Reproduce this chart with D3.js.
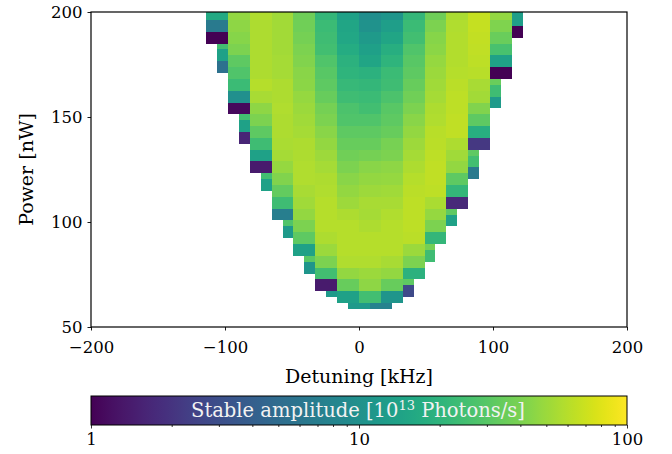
<!DOCTYPE html>
<html>
<head>
<meta charset="utf-8">
<script src="https://cdn.jsdelivr.net/npm/d3@7"></script>
<style>
  body { margin: 0; background: #fff; }
  svg text { font-family: "DejaVu Serif", "Liberation Serif", serif; fill: #000; }
</style>
</head>
<body>
<div id="chart"></div>
<script>
//---->DATA<-----//
// main scan: column centres (kHz) and row centres (nW)
const detuning = [-105.95, -89.65, -73.35, -57.05, -40.75, -24.45, -8.15,
                  8.15, 24.45, 40.75, 57.05, 73.35, 89.65, 105.95];
const power = [64.24, 69.86, 75.47, 81.09, 86.70, 92.32, 97.93, 103.55, 109.16,
               114.78, 120.39, 126.01, 131.62, 137.24, 142.85, 148.47, 154.08,
               159.70, 165.31, 170.93, 176.54, 182.16, 187.77, 193.39, 199.00];
// stable amplitude [1e13 photons/s], one row per power (bottom -> top), null = no solution
const n = null;
const amplitude = [
  [n, n, n, n, n, n, 14, 25, 11, n, n, n, n, n],
  [n, n, n, n, n, 1.4, 34, 46, 34, n, n, n, n, n],
  [n, n, n, n, n, 25, 47, 50, 47, 19, n, n, n, n],
  [n, n, n, n, n, 40, 58, 58, 55, 40, n, n, n, n],
  [n, n, n, n, 14, 50, 60, 60, 60, 50, n, n, n, n],
  [n, n, n, n, 32, 57, 60, 60, 60, 62, 21, n, n, n],
  [n, n, n, n, 40, 60, 60, 57, 60, 63, 40, n, n, n],
  [n, n, n, 7, 47, 60, 57, 54, 58, 63, 48, n, n, n],
  [n, n, n, 24, 52, 60, 51, 55, 55, 63, 56, 1.7, n, n],
  [n, n, n, 33, 55, 58, 47, 51, 52, 62, 63, 21, n, n],
  [n, n, n, 42, 58, 57, 44, 47, 48, 60, 64, 32, n, n],
  [n, n, 1.4, 48, 58, 54, 40, 44, 46, 57, 64, 47, n, n],
  [n, n, 14, 54, 57, 51, 37, 38, 40, 54, 63, 52, n, n],
  [n, n, 24, 56, 57, 47, 34, 34, 39, 51, 62, 57, 2.1, n],
  [n, n, 32, 57, 54, 44, 32, 32, 34, 47, 61, 64, 18, n],
  [n, n, 40, 57, 52, 40, 28, 28, 32, 44, 58, 64, 32, n],
  [n, 1.1, 46, 58, 50, 38, 27, 25, 30, 40, 57, 63, 42, n],
  [n, 10, 55, 57, 48, 34, 24, 23, 27, 37, 54, 63, 53, n],
  [n, 23, 60, 57, 45, 32, 22, 21, 24, 34, 52, 62, 55, n],
  [n, 28, 57, 54, 44, 30, 20, 19, 23, 32, 50, 60, 61, 1.0],
  [n, 32, 57, 54, 42, 28, 19, 15, 20, 30, 48, 59, 63, 14],
  [n, 40, 57, 53, 40, 25, 17, 13.5, 18, 28, 45, 59, 64, 26],
  [1.0, 43, 57, 53, 38, 24, 15.5, 12, 15, 25, 43, 59, 65, 35],
  [6.5, 46, 57, 53, 37, 23, 15, 10.5, 13, 23, 40, 58, 67, 41],
  [16, 47, 58, 52, 36, 21, 14, 9.5, 11, 21, 36, 56, 67, 47]
];

// second scan, shifted by half a cell, only seen along the edge
const edgeDetuning = [-97.8, -97.8, -97.8, -81.5, -81.5, -81.5, -65.2, -65.2,
                      -48.9, -48.9, -32.6, -32.6, -16.3, 0, 16.3, 32.6, 32.6,
                      48.9, 48.9, 65.2, 65.2, 81.5, 81.5, 81.5, 97.8, 97.8, 97.8,
                      114.1, 114.1, 114.1];
const edgePower = [184.96, 179.35, 173.73, 151.27, 145.66, 140.04, 123.20, 117.58,
                   100.74, 95.12, 83.89, 78.28, 67.05, 61.43, 61.43, 72.66, 67.05,
                   89.51, 83.89, 106.35, 100.74, 134.43, 128.81, 123.20, 168.12,
                   162.50, 156.89, 201.81, 196.19, 190.58];
const edgeAmplitude = [25, 14, 5.5, 25, 14, 1.6, 25, 14, 28, 12, 30, 11, 12, 12,
                       7.5, 32, 2.8, 38, 24, 32, 14, 32, 25, 6.5, 35, 24, 12, 13,
                       13, 1.0];

const xTicks = [-200, -100, 0, 100, 200];
const yTicks = [50, 100, 150, 200];
const cbTicks = [1, 10, 100];
const cbMinor = [2, 3, 4, 5, 6, 7, 8, 9, 20, 30, 40, 50, 60, 70, 80, 90];

//---->LAYOUT<-----//
const outerW = 672,
    outerH = 454,
    margin = {left: 91, right: 45, top: 12, bottom: 127},
    w = outerW - margin.left - margin.right,
    h = outerH - margin.top - margin.bottom;

const svg = d3.select('#chart').append('svg')
    .attr('width', outerW)
    .attr('height', outerH);

const g = svg.append('g')
    .attr('transform', 'translate(' + margin.left + ',' + margin.top + ')');

const x = d3.scaleLinear().domain([-200, 200]).range([0, w]);
const y = d3.scaleLinear().domain([50, 200]).range([h, 0]);
const color = d3.scaleSequentialLog(d3.interpolateViridis).domain([1, 100]);

const dDet = detuning[1] - detuning[0],
    dPow = power[1] - power[0];

svg.append('clipPath').attr('id', 'plot-clip')
    .append('rect').attr('width', w).attr('height', h);

// flatten grids into cells
const mainCells = [];
amplitude.forEach((row, i) => {
    row.forEach((v, k) => {
        if (v != null) mainCells.push({d: detuning[k], p: power[i], v: v});
    });
});
const edgeCells = edgeAmplitude.map((v, i) => ({d: edgeDetuning[i], p: edgePower[i], v: v}));

const cells = g.append('g')
    .attr('clip-path', 'url(#plot-clip)')
    .attr('shape-rendering', 'crispEdges');

// edge scan underneath, main scan on top
[edgeCells, mainCells].forEach(set => {
    cells.append('g').selectAll('rect')
        .data(set)
        .enter().append('rect')
        .attr('x', d => x(d.d - dDet / 2))
        .attr('y', d => y(d.p + dPow / 2))
        .attr('width', d => x(d.d + dDet / 2) - x(d.d - dDet / 2))
        .attr('height', d => y(d.p - dPow / 2) - y(d.p + dPow / 2))
        .attr('fill', d => color(d.v));
});

// axes
const fs = '16.5px';
const xAxis = g.append('g')
    .attr('transform', 'translate(0,' + h + ')')
    .call(d3.axisBottom(x).tickValues(xTicks).tickSize(3.5).tickSizeOuter(0).tickPadding(11));
const yAxis = g.append('g')
    .call(d3.axisLeft(y).tickValues(yTicks).tickSize(3.5).tickSizeOuter(0).tickPadding(5));
[xAxis, yAxis].forEach(a => {
    a.select('.domain').remove();
    a.selectAll('text').style('font-size', fs);
    a.selectAll('line').attr('stroke', '#000').attr('stroke-width', 0.9);
});

g.append('rect')
    .attr('width', w).attr('height', h)
    .attr('fill', 'none').attr('stroke', '#000').attr('stroke-width', 1.2);

g.append('text')
    .attr('x', w / 2).attr('y', h + 56)
    .attr('text-anchor', 'middle')
    .style('font-size', '19px')
    .text('Detuning [kHz]');

g.append('text')
    .attr('transform', 'translate(-58,' + (h / 2) + ') rotate(-90)')
    .attr('text-anchor', 'middle')
    .style('font-size', '19px')
    .text('Power [nW]');

// colorbar
const cbTop = 396, cbH = 29;
const cb = d3.scaleLog().domain([1, 100]).range([0, w]);
const defs = svg.append('defs');
const grad = defs.append('linearGradient').attr('id', 'cb-grad');
d3.range(0, 1.0001, 0.02).forEach(t => {
    grad.append('stop').attr('offset', t).attr('stop-color', d3.interpolateViridis(t));
});
const gc = svg.append('g')
    .attr('transform', 'translate(' + margin.left + ',' + cbTop + ')');
gc.append('rect')
    .attr('width', w).attr('height', cbH)
    .attr('fill', 'url(#cb-grad)')
    .attr('stroke', '#000').attr('stroke-width', 1);

const cbAxis = gc.append('g')
    .attr('transform', 'translate(0,' + cbH + ')')
    .call(d3.axisBottom(cb).tickValues(cbTicks).tickFormat(d3.format('d')).tickSize(3.5).tickSizeOuter(0).tickPadding(5));
cbAxis.select('.domain').remove();
cbAxis.selectAll('text').style('font-size', fs);
const cbMinorAxis = gc.append('g')
    .attr('transform', 'translate(0,' + cbH + ')')
    .call(d3.axisBottom(cb).tickValues(cbMinor).tickFormat('').tickSize(2).tickSizeOuter(0));
cbMinorAxis.select('.domain').remove();
gc.selectAll('.tick line').attr('stroke', '#000').attr('stroke-width', 0.8);

const cbLabel = gc.append('text')
    .attr('x', w / 2 - 1).attr('y', cbH / 2 + 6.5)
    .attr('text-anchor', 'middle')
    .style('font-size', '19.5px')
    .style('fill', '#f2f2f2');
cbLabel.append('tspan').text('Stable amplitude [10');
cbLabel.append('tspan').attr('dy', -7).style('font-size', '13px').text('13');
cbLabel.append('tspan').attr('dy', 7).text(' Photons/s]');
</script>
</body>
</html>
